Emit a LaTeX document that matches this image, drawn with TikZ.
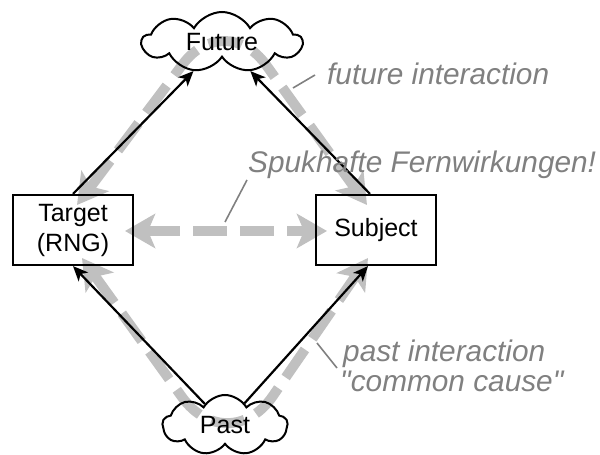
\documentclass[tikz,border=0pt]{standalone}
\usepackage{fontspec}
\setmainfont{Liberation Sans}
\newfontfamily\labelfont{Liberation Sans}
\usetikzlibrary{shapes.symbols,arrows.meta,backgrounds,calc}
\definecolor{silverband}{RGB}{192,192,192}
\definecolor{labelgray}{RGB}{128,128,128}
\tikzset{
  boxnode/.style={draw=black,line width=2.2pt,minimum width=120pt,minimum height=70pt,inner sep=0pt,align=center,font=\fontsize{25}{30}\selectfont},
  cloudnode/.style={draw=black,cloud,cloud puffs=9,cloud puff arc=120,cloud ignores aspect,line width=2pt,inner sep=0pt,font=\fontsize{25}{30}\selectfont},
  blackarrow/.style={line width=2.2pt,-{Stealth[length=15pt,width=13pt,inset=4pt]}},
  grayband/.style={draw=silverband,line width=10pt,dash pattern=on 34pt off 13pt,{Stealth[length=30pt,width=34pt,inset=7pt,fill=silverband]}-{Stealth[length=30pt,width=34pt,inset=7pt,fill=silverband]}},
  lbl/.style={text=labelgray,font=\labelfont\fontsize{29.8}{30}\selectfont\itshape,inner sep=0pt,anchor=base west},
  pinline/.style={draw=labelgray,line width=1.6pt}
}
\begin{document}
\begin{tikzpicture}[x=1pt,y=1pt]
\useasboundingbox (0,0) rectangle (600,455);
% nodes
\node[boxnode] (T) at (73,225) {Target\\(RNG)};
\node[boxnode] (S) at (376,225) {Subject};
\node[cloudnode,minimum width=160pt,minimum height=60pt] (F) at (222,413) {Future};
\node[cloudnode,minimum width=125pt,minimum height=60pt] (P) at (225,30) {Past};
% gray bands
\coordinate (topc) at (225,447);
\coordinate (botc) at (228,-6);
\coordinate (tl) at (77,250);
\coordinate (tr) at (367,250);
\coordinate (bl) at (82,197);
\coordinate (br) at (368,197);
\coordinate (hl) at (125,224);
\coordinate (hr) at (327,224);
\begin{scope}[on background layer]
\draw[grayband,rounded corners=70pt] (tl) -- (topc) -- (tr);
\draw[grayband,rounded corners=79pt] (bl) -- (botc) -- (br);
\draw[grayband] (hl) -- (hr);
\end{scope}
% black arrows
\draw[blackarrow] (T.north) -- (F);
\draw[blackarrow] ([xshift=-6pt]S.north) -- (F);
\draw[blackarrow] (P) -- (T.south);
\draw[blackarrow] (P) -- ([xshift=-8pt]S.south);
% labels
\node[lbl] (fi) at (327,370) {future interaction};
\node[lbl] (sp) at (248,282) {Spukhafte Fernwirkungen!};
\node[lbl] (pi) at (343,93) {past interaction};
\node[lbl] (cc) at (340,63) {"common cause"};
\coordinate (fiA) at (315,380);
\coordinate (fiB) at (293,367);
\coordinate (spA) at (247,275);
\coordinate (spB) at (225,233);
\coordinate (piA) at (337,87);
\coordinate (piB) at (317,112);
\draw[pinline] (fiA) -- (fiB);
\draw[pinline] (spA) -- (spB);
\draw[pinline] (piA) -- (piB);
\end{tikzpicture}
\end{document}
